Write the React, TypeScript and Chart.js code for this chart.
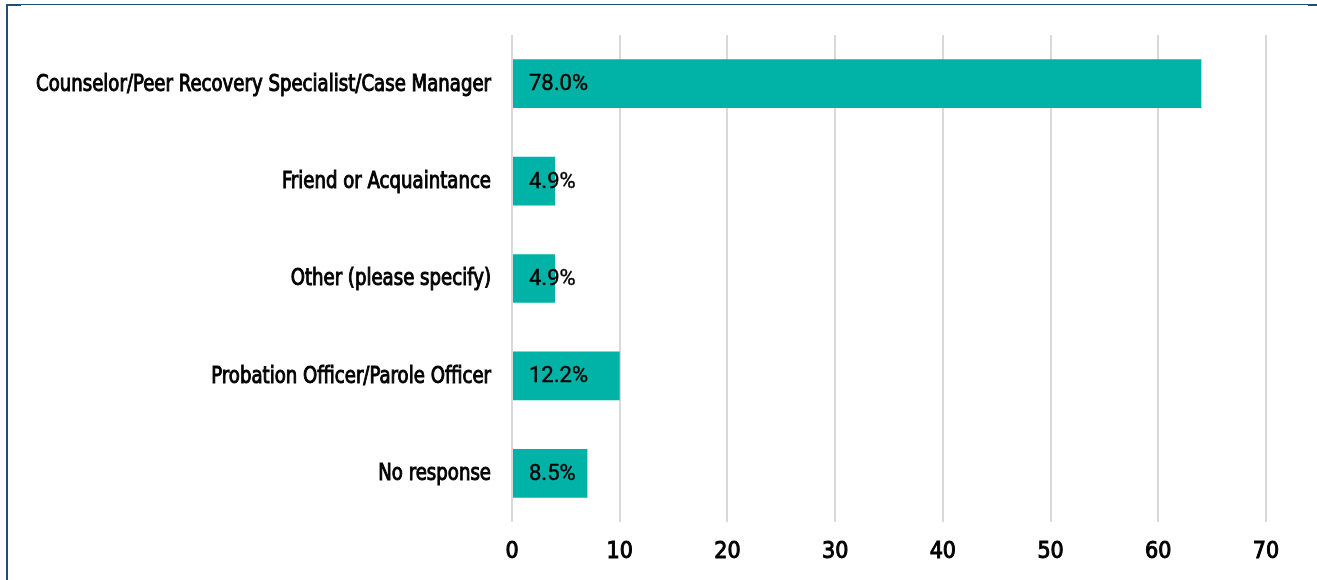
import React, { useEffect, useRef } from "react";
import { Chart, registerables } from "chart.js";

Chart.register(...registerables);

const categories = [
  "Counselor/Peer Recovery Specialist/Case Manager",
  "Friend or Acquaintance",
  "Other (please specify)",
  "Probation Officer/Parole Officer",
  "No response",
];
const counts = [64, 4, 4, 10, 7];
const percentLabels = ["78.0%", "4.9%", "4.9%", "12.2%", "8.5%"];
const xTicks = [0, 10, 20, 30, 40, 50, 60, 70];

const FONT = "'Liberation Sans Narrow', 'DejaVu Sans Condensed', 'Arial Narrow', sans-serif";

function heavyText(ctx: CanvasRenderingContext2D, text: string) {
  ctx.fillText(text, 0, 0);
  ctx.strokeText(text, 0, 0);
}

const labelPlugin = {
  id: "barLabels",
  afterDatasetsDraw(chart: any) {
    const ctx = chart.ctx as CanvasRenderingContext2D;
    const meta = chart.getDatasetMeta(0);
    ctx.save();
    ctx.fillStyle = "#000000";
    ctx.strokeStyle = "#000000";
    ctx.textBaseline = "middle";

    // data labels inside bars
    ctx.font = `22px Roboto, 'Noto Sans', sans-serif`;
    ctx.lineWidth = 0.4;
    const kd = Math.min(1, 59 / ctx.measureText(percentLabels[0]).width);
    meta.data.forEach((bar: any, i: number) => {
      ctx.save();
      ctx.translate(bar.base + 16, bar.y + 1);
      ctx.scale(kd, 1);
      ctx.textAlign = "left";
      heavyText(ctx, percentLabels[i]);
      ctx.restore();
    });

    // category labels
    ctx.font = `23px ${FONT}`;
    ctx.lineWidth = 1.0;
    const ky = Math.min(1, 455 / ctx.measureText(categories[0]).width);
    const yScale = chart.scales.y;
    categories.forEach((c, i) => {
      const y = yScale.getPixelForValue(i);
      ctx.save();
      ctx.translate(491, y + 1);
      ctx.scale(ky, 1);
      ctx.textAlign = "right";
      heavyText(ctx, c);
      ctx.restore();
    });

    // x tick labels
    const xScale = chart.scales.x;
    ctx.font = `23px ${FONT}`;
    ctx.lineWidth = 1.0;
    xTicks.forEach((v) => {
      const x = xScale.getPixelForValue(v);
      ctx.save();
      ctx.translate(x, 552);
      ctx.textAlign = "center";
      heavyText(ctx, String(v));
      ctx.restore();
    });
    ctx.restore();
  },
};

export default function App() {
  const ref = useRef<HTMLCanvasElement | null>(null);
  useEffect(() => {
    document.body.style.margin = "0";
    if (!ref.current) return;
    const chart = new Chart(ref.current, {
      type: "bar",
      data: {
        labels: categories,
        datasets: [
          {
            data: counts,
            backgroundColor: "#00B3A6",
            barPercentage: 0.5,
            categoryPercentage: 1,
          },
        ],
      },
      options: {
        indexAxis: "y",
        animation: false,
        responsive: false,
        maintainAspectRatio: false,
        layout: { padding: { top: 35, right: 51, left: 0, bottom: 0 } },
        plugins: { legend: { display: false }, tooltip: { enabled: false } },
        scales: {
          x: {
            min: 0,
            max: 70,
            afterBuildTicks: (scale: any) => {
              scale.ticks = xTicks.map((v) => ({ value: v }));
            },
            ticks: { display: false },
            grid: { color: "#d9d9d9", lineWidth: 2, drawTicks: false },
            border: { display: false },
            afterFit: (scale: any) => {
              scale.height = 58;
            },
          },
          y: {
            ticks: { display: false },
            grid: { display: false, drawTicks: false },
            border: { display: false },
            afterFit: (scale: any) => {
              scale.width = 512;
            },
          },
        },
      },
      plugins: [labelPlugin],
    });
    return () => chart.destroy();
  }, []);

  return (
    <div style={{ position: "relative", width: 1317, height: 580, background: "#fff" }}>
      <canvas ref={ref} width={1317} height={580} style={{ position: "absolute", left: 0, top: 0 }} />
      <div style={{ position: "absolute", left: 6, top: 4, width: 2, height: 576, background: "#1F4E79" }} />
      <div style={{ position: "absolute", left: 6, top: 4, width: 1311, height: 1, background: "#1F4E79" }} />
      <div style={{ position: "absolute", left: 6, top: 4, width: 15, height: 2, background: "#1F4E79" }} />
      <div style={{ position: "absolute", left: 1308, top: 4, width: 9, height: 2, background: "#1F4E79" }} />
    </div>
  );
}
